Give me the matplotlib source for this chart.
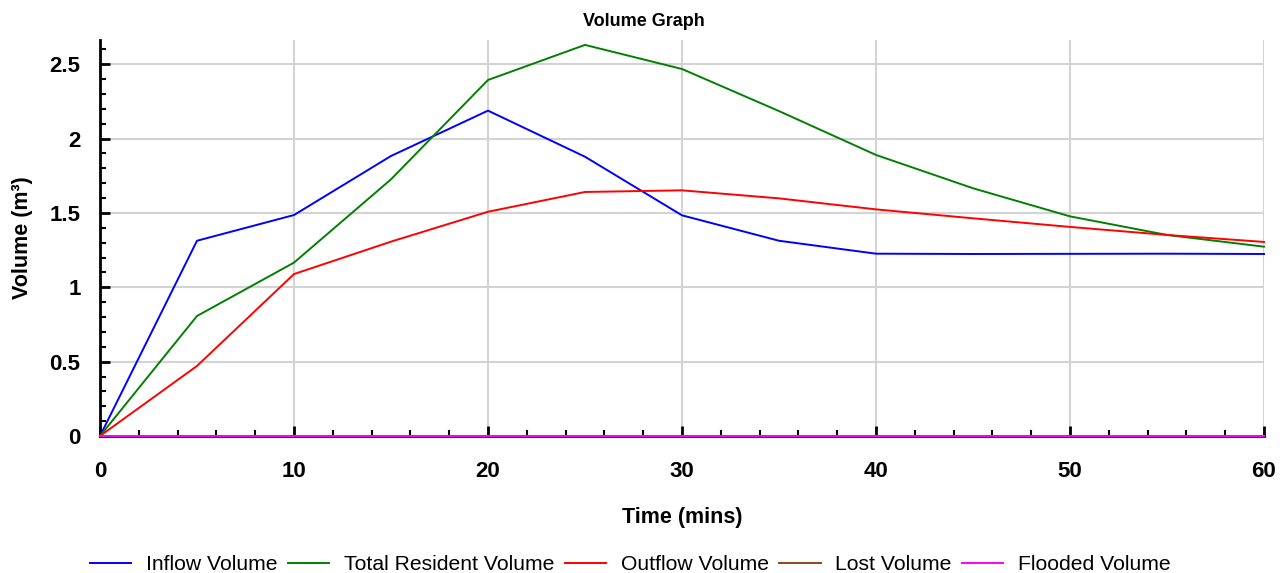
import matplotlib
matplotlib.use('Agg')

import matplotlib.pyplot as plt
from matplotlib.ticker import MultipleLocator

# === data ===
time_mins = [0, 5, 10, 15, 20, 25, 30, 35, 40, 45, 50, 55, 60]
inflow = [0, 1.313, 1.486, 1.883, 2.188, 1.878, 1.484, 1.313, 1.226, 1.224, 1.225, 1.226, 1.224]
resident = [0, 0.807, 1.166, 1.726, 2.394, 2.630, 2.468, 2.185, 1.890, 1.666, 1.477, 1.352, 1.273]
outflow = [0, 0.471, 1.089, 1.307, 1.508, 1.641, 1.652, 1.598, 1.524, 1.464, 1.406, 1.352, 1.305]
lost = [0] * 13
flooded = [0] * 13

series = [
    ("Inflow Volume", inflow, "#0000ff"),
    ("Total Resident Volume", resident, "#008000"),
    ("Outflow Volume", outflow, "#ff0000"),
    ("Lost Volume", lost, "#8b4513"),
    ("Flooded Volume", flooded, "#ff00ff"),
]

plt.rcParams['font.family'] = ['Liberation Sans', 'DejaVu Sans']

fig = plt.figure(figsize=(12.88, 5.73), dpi=100)
ax = fig.add_axes([100 / 1288, 137 / 573, 1164 / 1288, 396 / 573])

for name, vals, col in series:
    ax.plot(time_mins, vals, color=col, lw=1.4, label=name, clip_on=False, zorder=3)

ax.set_xlim(0, 60)
ax.set_ylim(0, 2.663)

ax.xaxis.set_major_locator(MultipleLocator(10))
ax.xaxis.set_minor_locator(MultipleLocator(2))
ax.yaxis.set_major_locator(MultipleLocator(0.5))
ax.yaxis.set_minor_locator(MultipleLocator(0.1))
ax.yaxis.set_major_formatter(plt.FuncFormatter(lambda v, p: f"{v:g}"))

ax.grid(True, which='major', color='#d3d3d3', lw=1.5, zorder=0)
ax.set_axisbelow(True)

for s in ['top', 'right']:
    ax.spines[s].set_visible(False)
for s in ['left', 'bottom']:
    ax.spines[s].set_linewidth(2)

ax.tick_params(which='major', direction='in', length=7.5, width=2, labelsize=16)
ax.tick_params(which='minor', direction='in', length=4.5, width=1.5)
ax.tick_params(axis='x', which='major', pad=18)
ax.tick_params(axis='y', which='major', pad=14)
for lbl in ax.get_xticklabels() + ax.get_yticklabels():
    lbl.set_fontweight('bold')

ax.set_xlabel("Time (mins)", fontsize=15.5, fontweight='bold', labelpad=18)
ax.set_ylabel("Volume (m³)", fontsize=15.5, fontweight='bold', labelpad=12)
fig.suptitle("Volume Graph", fontsize=13, fontweight='bold', y=0.978)

fig.legend(loc='lower center', ncol=5, frameon=False, fontsize=15.2,
           bbox_to_anchor=(0.4895, -0.035), handlelength=1.95, columnspacing=0.5,
           handletextpad=0.7)

fig.savefig('out.png', dpi=100)
